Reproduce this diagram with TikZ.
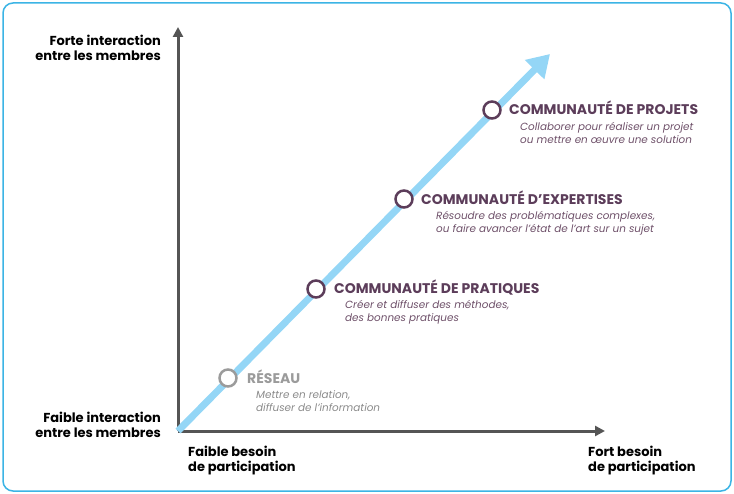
\documentclass[tikz,border=0pt]{standalone}
\usepackage{fontspec}
\setmainfont{Poppins}
\usetikzlibrary{arrows.meta}
\definecolor{framec}{HTML}{3BB4E5}
\definecolor{axisc}{HTML}{555555}
\definecolor{diagc}{HTML}{94D6F6}
\definecolor{plum}{HTML}{5C3D5A}
\definecolor{plumtext}{HTML}{6E5069}
\definecolor{greyc}{HTML}{9B9B9B}
\definecolor{greytext}{HTML}{8A8A8A}
\begin{document}
\begin{tikzpicture}[x=1pt,y=-1pt,
  axisline/.style={axisc, line width=3pt, -{Triangle[width=10pt,length=10pt]}},
  diagline/.style={diagc, line width=7pt, -{Triangle[width=26pt,length=22pt]}},
  stage/.style={circle, draw=plum, fill=white, line width=2.5pt, minimum size=17pt, inner sep=0pt},
  stagegrey/.style={stage, draw=greyc},
  axislabel/.style={font=\bfseries\fontsize{13}{15}\selectfont, text=black, inner sep=0pt},
  title/.style={font=\bfseries\fontsize{14}{15}\selectfont, text=plum, inner sep=0pt, anchor=base west},
  sub/.style={font=\itshape\fontsize{10.4}{13}\selectfont, text=plumtext, inner sep=0pt, anchor=north west, align=left}
]
\useasboundingbox (0,0) rectangle (734,494);
\draw[framec, line width=1.5pt, rounded corners=10pt] (3,3) rectangle (731,491);

\coordinate (O) at (178,431);
\coordinate (ytip) at (178,27);
\coordinate (xtip) at (605,431);
\coordinate (dtip) at (550,54);

\draw[axisline] (O) -- (ytip);
\draw[axisline] (O) -- (xtip);
\draw[diagline] (O) -- (dtip);

\node[stagegrey] (c1) at (228,378) {};
\node[stage] (c2) at (316,289) {};
\node[stage] (c3) at (404,199) {};
\node[stage] (c4) at (492,110) {};

\node[title, text=greyc] (t1) at (247,384) {RÉSEAU};
\node[title] (t2) at (334,294) {COMMUNAUTÉ DE PRATIQUES};
\node[title] (t3) at (421,205) {COMMUNAUTÉ D’EXPERTISES};
\node[title] (t4) at (509,115) {COMMUNAUTÉ DE PROJETS};

\node[sub, text=greytext] (s1) at (256,390) {Mettre en relation,\\diffuser de l’information};
\node[sub] (s2) at (345,300) {Créer et diffuser des méthodes,\\des bonnes pratiques};
\node[sub] (s3) at (436,211) {Résoudre des problématiques complexes,\\ou faire avancer l’état de l’art sur un sujet};
\node[sub] (s4) at (520,122) {Collaborer pour réaliser un projet\\ou mettre en œuvre une solution};

\node[axislabel, anchor=north east, align=right] (ly1) at (161,35) {Forte interaction\\entre les membres};
\node[axislabel, anchor=north east, align=right] (ly0) at (161,412) {Faible interaction\\entre les membres};
\node[axislabel, anchor=north west, align=left] (lx0) at (188,446) {Faible besoin\\de participation};
\node[axislabel, anchor=north west, align=left] (lx1) at (588,446) {Fort besoin\\de participation};
\end{tikzpicture}
\end{document}
